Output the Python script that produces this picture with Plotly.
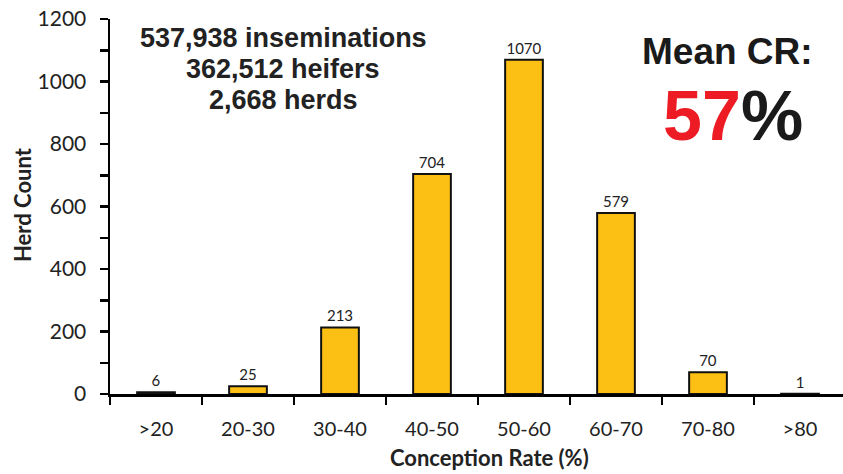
import plotly.graph_objects as go

categories = [">20", "20-30", "30-40", "40-50", "50-60", "60-70", "70-80", ">80"]
herd_counts = [6, 25, 213, 704, 1070, 579, 70, 1]
y_tick_vals = [0, 200, 400, 600, 800, 1000, 1200]
summary_lines = ["537,938 inseminations", "362,512 heifers", "2,668 herds"]

BAR_COLOR = "#FBC013"
FONT = "Lato"
TXT = "#222222"

L, R, T, B = 110, 0, 19, 80
W, H = 843, 474
PW, PH = W - L - R, H - T - B


def px(x):
    return (x - L) / PW


def py(y):
    return 1 - (y - T) / PH


fig = go.Figure()
fig.add_trace(go.Bar(
    x=categories, y=herd_counts,
    marker=dict(color=BAR_COLOR, line=dict(color="#111111", width=2)),
    text=[str(v) for v in herd_counts], textposition="outside",
    textfont=dict(family=FONT, size=15, color=TXT),
    cliponaxis=False, width=0.41, hoverinfo="skip",
))

annotations = []
for i, line in enumerate(summary_lines):
    annotations.append(dict(
        text="<b>" + line + "</b>", xref="paper", yref="paper",
        x=px(283), y=py(38 + 31 * i), xanchor="center", yanchor="middle",
        showarrow=False, font=dict(family="Liberation Sans", size=27, color=TXT)))
annotations += [
    dict(text="<b>Mean CR:</b>", xref="paper", yref="paper", x=px(727), y=py(52),
         xanchor="center", yanchor="middle", showarrow=False,
         font=dict(family="Liberation Sans", size=37, color="#1a1a1a")),
    dict(text="<b><span style='color:#ED1C24'>57</span>%</b>", xref="paper", yref="paper",
         x=px(733), y=py(116), xanchor="center", yanchor="middle", showarrow=False,
         font=dict(family="Liberation Sans", size=70, color="#1a1a1a")),
    dict(text="<b>Conception Rate (%)</b>", xref="paper", yref="paper", x=px(489), y=py(457),
         xanchor="center", yanchor="middle", showarrow=False,
         font=dict(family=FONT, size=22, color=TXT)),
    dict(text="<b>Herd Count</b>", xref="paper", yref="paper", x=px(22), y=py(205),
         xanchor="center", yanchor="middle", showarrow=False, textangle=-90,
         font=dict(family=FONT, size=22, color=TXT)),
]

fig.update_layout(
    width=W, height=H,
    margin=dict(l=L, r=R, t=T, b=B),
    paper_bgcolor="white", plot_bgcolor="white",
    showlegend=False,
    font=dict(family=FONT, color=TXT),
    annotations=annotations,
)

fig.update_xaxes(
    type="category", range=[-0.5, -0.5 + PW / 92], automargin=False,
    showline=True, linecolor="black", linewidth=2.5,
    ticks="outside", tickson="boundaries", ticklen=8, tickwidth=2.5, tickcolor="black",
    tickfont=dict(family=FONT, size=20, color=TXT),
    ticklabelstandoff=15,
    showgrid=False, zeroline=False,
)
fig.update_yaxes(
    range=[0, 1200], tickvals=y_tick_vals, automargin=False,
    showline=True, linecolor="black", linewidth=2.5,
    ticks="outside", ticklen=8, tickwidth=2.5, tickcolor="black",
    minor=dict(dtick=100, ticks="outside", ticklen=8, tickwidth=2.5, tickcolor="black", showgrid=False),
    tickfont=dict(family=FONT, size=21, color=TXT),
    ticklabelstandoff=9,
    showgrid=False, zeroline=False,
)

fig.write_html("out.html", config={"displayModeBar": False, "staticPlot": True},
               post_script="document.body.style.margin='0';document.body.style.overflow='hidden';")
